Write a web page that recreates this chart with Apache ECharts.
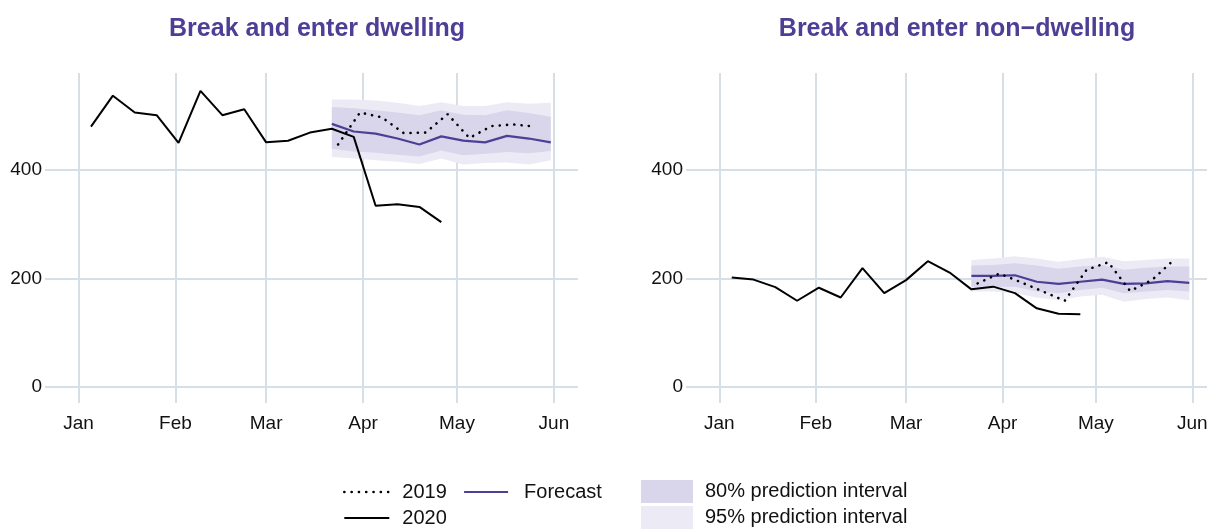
<!DOCTYPE html>
<html>
<head>
<meta charset="utf-8">
<script src="https://cdn.jsdelivr.net/npm/echarts@6/dist/echarts.min.js"></script>
<style>
  html, body { margin: 0; padding: 0; background: #fff; }
  #chart { width: 1207px; height: 530px; }
</style>
</head>
<body>
<div id="chart"></div>
<script>
// weekly counts, week ending Sunday (2019 weeks shown on the 2020 calendar)
const weeks2020 = ["2020-01-05", "2020-01-12", "2020-01-19", "2020-01-26", "2020-02-02", "2020-02-09",
  "2020-02-16", "2020-02-23", "2020-03-01", "2020-03-08", "2020-03-15", "2020-03-22", "2020-03-29",
  "2020-04-05", "2020-04-12", "2020-04-19", "2020-04-26"];
const weeks2019 = ["2020-03-24", "2020-03-31", "2020-04-07", "2020-04-14", "2020-04-21", "2020-04-28",
  "2020-05-05", "2020-05-12", "2020-05-19", "2020-05-26"];
const weeksForecast = ["2020-03-22", "2020-03-29", "2020-04-05", "2020-04-12", "2020-04-19", "2020-04-26",
  "2020-05-03", "2020-05-10", "2020-05-17", "2020-05-24", "2020-05-31"];

const dwelling2020 = [480, 537, 506, 501, 450, 546, 501, 512, 451, 454, 469, 476, 461, 334, 337, 332, 304];
const dwelling2019 = [447, 506, 497, 468, 469, 503, 459, 481, 484, 480];
const dwellingForecast = [485, 471, 467, 458, 447, 462, 454, 451, 463, 458, 451];
const dwellingLo80 = [439, 434, 432, 428, 425, 436, 427, 430, 433, 431, 435];
const dwellingHi80 = [516, 514, 510, 506, 501, 510, 502, 501, 510, 505, 498];
const dwellingLo95 = [424, 421, 418, 415, 411, 421, 410, 413, 414, 410, 418];
const dwellingHi95 = [530, 530, 528, 524, 518, 525, 518, 518, 525, 522, 524];

const nonDwelling2020 = [202, 198, 184, 159, 183, 165, 219, 173, 197, 232, 211, 180, 185, 173, 145, 135, 134];
const nonDwelling2019 = [191, 209, 193, 176, 159, 216, 230, 177, 197, 234];
const nonDwellingForecast = [205, 205, 206, 194, 190, 194, 198, 190, 191, 195, 192];
const nonDwellingLo80 = [185, 185, 185, 176, 173, 179, 183, 173, 176, 179, 176];
const nonDwellingHi80 = [224, 225, 228, 224, 218, 222, 225, 216, 220, 222, 222];
const nonDwellingLo95 = [176, 176, 173, 165, 160, 167, 170, 157, 162, 165, 160];
const nonDwellingHi95 = [234, 237, 241, 237, 231, 236, 240, 232, 234, 237, 237];

const monthTicks = ["Jan", "Feb", "Mar", "Apr", "May", "Jun"];
const yTicks = [0, 200, 400];
const panelTitles = ["Break and enter dwelling", "Break and enter non\u2212dwelling"];

const purple = "#4e3e96";
const band80 = "#d9d5ea";
const band95 = "#ecebf5";
const gridCol = "#d6dee6";
const dotted = [0.1, 7.2];
const DAY = 86400000;

const jan1 = +new Date(2020, 0, 1);
const monthStarts = monthTicks.map((m, i) => +new Date(2020, i, 1));

function toTime(s) {
  const p = s.split("-").map(Number);
  return +new Date(p[0], p[1] - 1, p[2]);
}
function pairs(dates, vals) {
  return vals.map((v, i) => [toTime(dates[i]), v]);
}

let myChart = echarts.init(document.getElementById("chart"));

function xAxisFor(i, maxDay) {
  return {
    type: "value",
    gridIndex: i,
    min: jan1 - 10.7 * DAY,
    max: jan1 + maxDay * DAY,
    axisLine: { show: false },
    axisTick: { show: false, customValues: monthStarts },
    axisLabel: {
      customValues: monthStarts,
      formatter: val => monthTicks[new Date(val).getMonth()],
      color: "#111",
      fontSize: 19,
      fontFamily: "Liberation Sans",
      margin: 11
    },
    splitLine: { show: true, lineStyle: { color: gridCol, width: 2 } }
  };
}

function yAxisFor(i) {
  return {
    type: "value",
    gridIndex: i,
    min: -29.5,
    max: 578.8,
    axisLine: { show: false },
    axisTick: { show: false, customValues: yTicks },
    axisLabel: {
      customValues: yTicks,
      color: "#111",
      fontSize: 19,
      fontFamily: "Liberation Sans",
      margin: 3
    },
    splitLine: { show: true, lineStyle: { color: gridCol, width: 2 } }
  };
}

// prediction band drawn as one polygon through the axis scales
function bandSeries(i, name, lo, hi, color) {
  return {
    name: name,
    type: "custom",
    xAxisIndex: i,
    yAxisIndex: i,
    silent: true,
    clip: true,
    encode: { x: 0, y: [1, 2] },
    itemStyle: { color: color },
    data: weeksForecast.map((d, k) => [toTime(d), lo[k], hi[k]]),
    renderItem: function (params, api) {
      if (params.dataIndexInside !== 0) return;
      const n = params.dataInsideLength;
      const upper = [], lower = [];
      for (let k = 0; k < n; k++) {
        const t = api.value(0, k);
        upper.push(api.coord([t, api.value(2, k)]));
        lower.push(api.coord([t, api.value(1, k)]));
      }
      return {
        type: "polygon",
        shape: { points: upper.concat(lower.reverse()) },
        style: { fill: color }
      };
    },
    z: 1
  };
}

function panelSeries(i, s2020, s2019, fc, lo80, hi80, lo95, hi95) {
  return [
    bandSeries(i, "95% prediction interval", lo95, hi95, band95),
    bandSeries(i, "80% prediction interval", lo80, hi80, band80),
    {
      name: "Forecast",
      type: "line",
      xAxisIndex: i,
      yAxisIndex: i,
      symbol: "none",
      lineStyle: { color: purple, width: 2.2 },
      itemStyle: { color: purple },
      data: pairs(weeksForecast, fc),
      z: 3
    },
    {
      name: "2019",
      type: "line",
      xAxisIndex: i,
      yAxisIndex: i,
      symbol: "none",
      lineStyle: { color: "#000", width: 2.6, type: dotted, cap: "round" },
      itemStyle: { color: "#000" },
      data: pairs(weeks2019, s2019),
      z: 4
    },
    {
      name: "2020",
      type: "line",
      xAxisIndex: i,
      yAxisIndex: i,
      symbol: "none",
      lineStyle: { color: "#000", width: 2 },
      itemStyle: { color: "#000" },
      data: pairs(weeks2020, s2020),
      z: 5
    }
  ];
}

const legendText = { color: "#111", fontSize: 20, fontFamily: "Liberation Sans" };
const noSymbol = { opacity: 0 };

let option = {
  animation: false,
  backgroundColor: "#fff",
  title: panelTitles.map((t, i) => ({
    text: t,
    left: i === 0 ? 312 : 952,
    top: 12,
    textAlign: "center",
    textStyle: { color: purple, fontSize: 25, fontWeight: "bold", fontFamily: "Liberation Sans" }
  })),
  grid: [
    { left: 45, right: 629, top: 73, bottom: 127, containLabel: false, outerBoundsMode: "none" },
    { left: 686, right: 0, top: 73, bottom: 127, containLabel: false, outerBoundsMode: "none" }
  ],
  xAxis: [xAxisFor(0, 159.7), xAxisFor(1, 156.7)],
  yAxis: [yAxisFor(0), yAxisFor(1)],
  legend: [
    {
      orient: "vertical",
      left: 343,
      top: 482,
      padding: 0,
      itemWidth: 45,
      itemHeight: 20,
      itemGap: 6,
      selectedMode: false,
      textStyle: Object.assign({}, legendText, { padding: [0, 0, 0, 8] }),
      data: [
        { name: "2019", itemStyle: noSymbol, lineStyle: { color: "#000", width: 2.6, type: dotted, cap: "round" } },
        { name: "2020", itemStyle: noSymbol, lineStyle: { color: "#000", width: 2 } }
      ]
    },
    {
      orient: "vertical",
      left: 463,
      top: 482,
      padding: 0,
      itemWidth: 44,
      itemHeight: 20,
      selectedMode: false,
      textStyle: Object.assign({}, legendText, { padding: [0, 0, 0, 11] }),
      data: [{ name: "Forecast", itemStyle: noSymbol, lineStyle: { color: purple, width: 2.2 } }]
    },
    {
      orient: "vertical",
      left: 641,
      top: 480,
      padding: 0,
      itemWidth: 52,
      itemHeight: 23,
      itemGap: 3,
      selectedMode: false,
      textStyle: Object.assign({}, legendText, { padding: [0, 0, 0, 7] }),
      data: [
        { name: "80% prediction interval", icon: "rect", itemStyle: { color: band80 } },
        { name: "95% prediction interval", icon: "rect", itemStyle: { color: band95 } }
      ]
    }
  ],
  series: [].concat(
    panelSeries(0, dwelling2020, dwelling2019, dwellingForecast, dwellingLo80, dwellingHi80, dwellingLo95, dwellingHi95),
    panelSeries(1, nonDwelling2020, nonDwelling2019, nonDwellingForecast, nonDwellingLo80, nonDwellingHi80, nonDwellingLo95, nonDwellingHi95)
  )
};

myChart.setOption(option);
window.addEventListener("resize", function () {
  myChart.resize();
});
</script>
</body>
</html>
